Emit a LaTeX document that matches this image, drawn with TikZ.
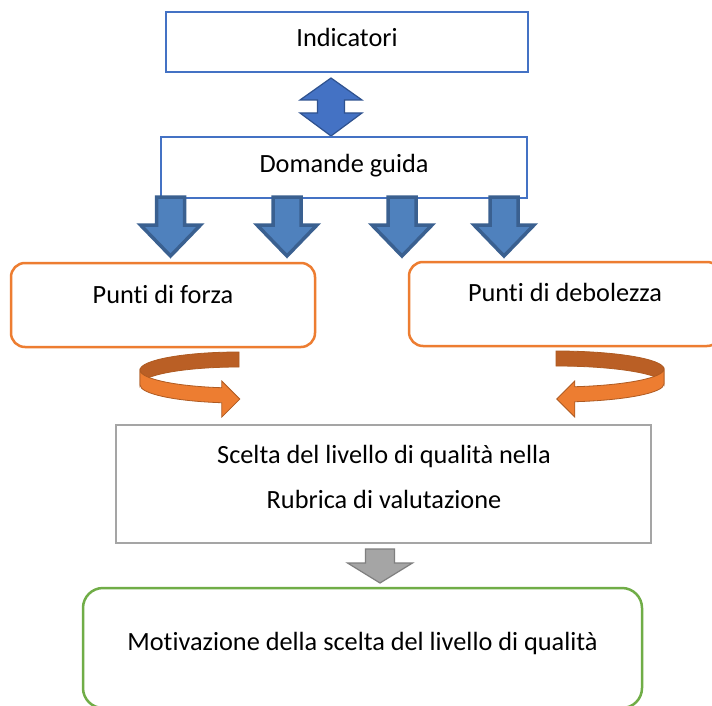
\documentclass[tikz,border=0pt]{standalone}
\usepackage{fontspec}
\setmainfont{Carlito}[Ligatures=NoCommon]
\usepackage{tikz}
\definecolor{bordoblu}{HTML}{4472C4}
\definecolor{bluscuro}{HTML}{2F528F}
\definecolor{bluchiaro}{HTML}{4F81BD}
\definecolor{bluriga}{HTML}{3A6090}
\definecolor{arancio}{HTML}{ED7D31}
\definecolor{arancioscuro}{HTML}{BA5F25}
\definecolor{arancioriga}{HTML}{AE5A21}
\definecolor{grigio}{HTML}{A5A5A5}
\definecolor{grigioscuro}{HTML}{7F7F7F}
\definecolor{verde}{HTML}{70AD47}
\newcommand\testo{\fontsize{26.3}{45}\selectfont}
\tikzset{%
  box/.style={draw, fill=white, inner sep=0pt, font=\testo,
    text height=18pt, text depth=8pt},
  box blu/.style={box, draw=bordoblu, line width=1.8pt},
  box arancio/.style={box, draw=arancio, line width=2.5pt, rounded corners=14pt},
  box grigio/.style={box, draw=grigio, line width=2.5pt},
  box verde/.style={box, draw=verde, line width=2.5pt, rounded corners=20pt},
  freccia giu/.pic={\draw[pic actions] (-14,0) -- (14,0) -- (14,28) -- (30,28)
    -- (0,59) -- (-30,28) -- (-14,28) -- cycle;},
  freccia doppia/.pic={\draw[pic actions] (0,0) -- (31,22) -- (13.5,22) -- (13.5,35)
    -- (31,35) -- (0,58) -- (-31,35) -- (-13.5,35) -- (-13.5,22) -- (-31,22) -- cycle;},
  nastro dietro/.style={fill=arancioscuro, draw=arancioriga, line width=0.8pt},
  nastro davanti/.style={fill=arancio, draw=arancioriga, line width=0.8pt}}

\begin{document}
\begin{tikzpicture}[x=1pt,y=-1pt]
\path[use as bounding box, fill=white] (0,0) rectangle (712,706);

\node[box blu, minimum width=362pt, minimum height=60pt] (indicatori) at (347,42) {Indicatori};
\pic[fill=bordoblu, draw=bluscuro, line width=1.2pt] at (331,78) {freccia doppia};
\node[box blu, minimum width=366pt, minimum height=61pt] (domande) at (344,167.5) {Domande guida};

\foreach \x in {170.5,287,402,504}
  \pic[fill=bluchiaro, draw=bluriga, line width=3.5pt] at (\x,197) {freccia giu};

\node[box arancio, minimum width=304pt, minimum height=84pt, text depth=22pt] (forza) at (163,305) {Punti di forza};
\node[box arancio, minimum width=312pt, minimum height=84pt, text depth=24pt] (debolezza) at (565,304) {Punti di debolezza};

% nastri curvi
\draw[nastro dietro] (239,352) arc[start angle=270, end angle=180, x radius=99, y radius=18]
  -- ++(0,15) arc[start angle=180, end angle=270, x radius=99, y radius=18] -- cycle;
\draw[nastro davanti] (140,370) arc[start angle=180, end angle=100, x radius=99, y radius=18]
  -- ++(0,-6.7) -- ++(18,18) -- ++(-18,18) -- ++(0,-14.3)
  arc[start angle=100, end angle=180, x radius=99, y radius=18] -- cycle;
\draw[nastro dietro] (556,351) arc[start angle=270, end angle=360, x radius=108, y radius=18]
  -- ++(0,15) arc[start angle=0, end angle=-90, x radius=108, y radius=18] -- cycle;
\draw[nastro davanti] (664,369) arc[start angle=0, end angle=80, x radius=108, y radius=18]
  -- ++(0,-5.7) -- ++(-18,18) -- ++(18,18) -- ++(0,-15.3)
  arc[start angle=80, end angle=0, x radius=108, y radius=18] -- cycle;

\node[box grigio, minimum width=535pt, minimum height=118pt] (scelta) at (383.5,484) {};
\node[font=\testo, anchor=base, inner sep=0pt] (scelta1) at (384,463) {Scelta del livello di qualità nella};
\node[font=\testo, anchor=base, inner sep=0pt] (scelta2) at (384,508) {Rubrica di valutazione};

\draw[fill=grigio, draw=grigioscuro, line width=1.2pt] (365.5,549) -- (394.5,549) -- (394.5,563)
  -- (412.5,563) -- (380,583) -- (347.5,563) -- (365.5,563) -- cycle;

\node[box verde, minimum width=559pt, minimum height=120pt, text depth=14pt] (motivazione) at (362.5,648)
  {Motivazione della scelta del livello di qualità};
\end{tikzpicture}
\end{document}
